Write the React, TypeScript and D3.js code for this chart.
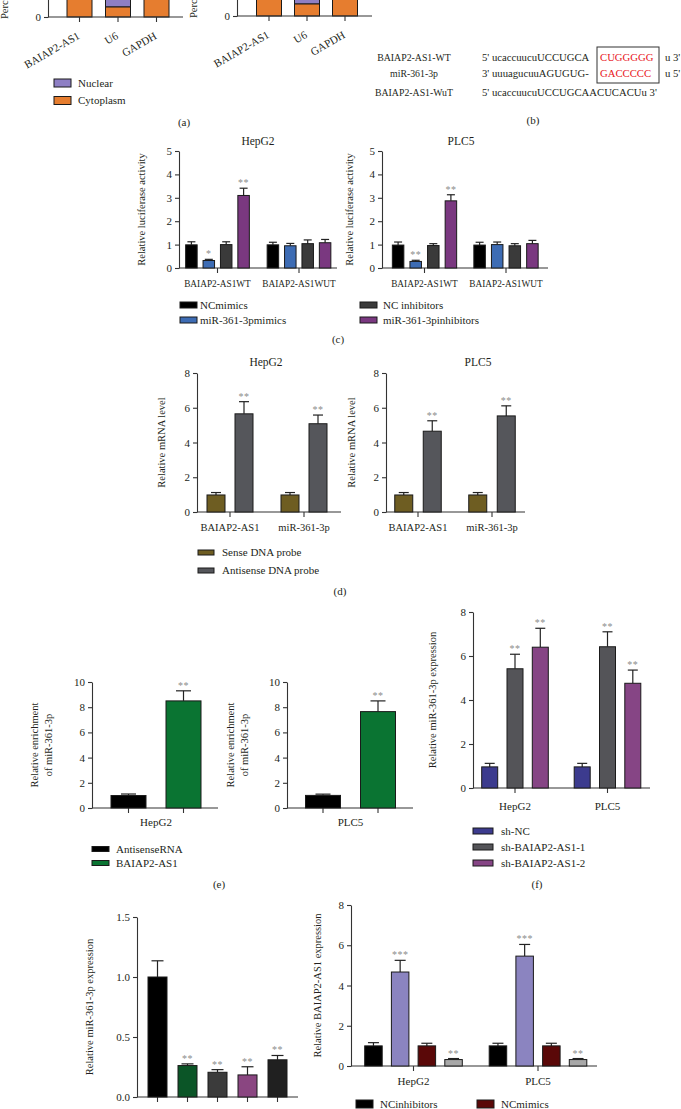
import React, { useEffect, useRef } from "react";
import * as d3 from "d3";

const FONT = "'Liberation Serif', 'Times New Roman', serif";
const TEXT = "#231f20";
const AXIS = "#333333";
const STAR = "#8c8c8c";

// ---------- (a) subcellular fractionation ----------
const aCategories = ["BAIAP2-AS1", "U6", "GAPDH"];
const aLegend = ["Nuclear", "Cytoplasm"];
const aColors = ["#8e7fc4", "#e67d2f"];
const aChart1Cytoplasm = [88, 10, 92];
const aChart1Nuclear = [12, 90, 8];
const aChart2Cytoplasm = [86, 12, 90];
const aChart2Nuclear = [14, 88, 10];
const aTicks = [0];

// ---------- (b) binding site ----------
const bLabels = ["BAIAP2-AS1-WT", "miR-361-3p", "BAIAP2-AS1-WuT"];
const bSeqs = ["5' ucaccuucuUCCUGCA", "3' uuuagucuuAGUGUG-", "5' ucaccuucuUCCUGCAACUCACUu 3'"];
const bSites = ["CUGGGGG", "GACCCCC", ""];
const bTails = ["u 3'", "u 5'", ""];

// ---------- (c) luciferase ----------
const cGroups = ["BAIAP2-AS1WT", "BAIAP2-AS1WUT"];
const cSeries = ["NCmimics", "miR-361-3pmimics", "NC inhibitors", "miR-361-3pinhibitors"];
const cColors = ["#000000", "#3d6cb4", "#3a3a3a", "#7a3880"];
const cHepG2 = [[0.99, 0.99], [0.32, 0.95], [1.0, 1.04], [3.1, 1.08]];
const cHepG2Err = [[0.13, 0.11], [0.05, 0.1], [0.12, 0.16], [0.31, 0.14]];
const cHepG2Sig = [["", ""], ["*", ""], ["", ""], ["**", ""]];
const cPLC5 = [[0.98, 0.98], [0.28, 1.0], [0.96, 0.95], [2.87, 1.04]];
const cPLC5Err = [[0.13, 0.12], [0.05, 0.11], [0.08, 0.09], [0.26, 0.14]];
const cPLC5Sig = [["", ""], ["**", ""], ["", ""], ["**", ""]];

// ---------- (d) RNA pull-down ----------
const dGroups = ["BAIAP2-AS1", "miR-361-3p"];
const dSeries = ["Sense DNA probe", "Antisense DNA probe"];
const dColors = ["#6e5d22", "#55565b"];
const dHepG2 = [[0.98, 0.98], [5.65, 5.08]];
const dHepG2Err = [[0.14, 0.14], [0.7, 0.5]];
const dPLC5 = [[0.98, 0.98], [4.65, 5.53]];
const dPLC5Err = [[0.14, 0.14], [0.6, 0.58]];
const dSig = [["", ""], ["**", "**"]];

// ---------- (e) RIP enrichment ----------
const eSeries = ["AntisenseRNA", "BAIAP2-AS1"];
const eColors = ["#000000", "#0a7432"];
const eHepG2 = [0.99, 8.5];
const eHepG2Err = [0.12, 0.8];
const ePLC5 = [1.0, 7.65];
const ePLC5Err = [0.1, 0.85];
const eSig = ["", "**"];

// ---------- (f) knockdown ----------
const fGroups = ["HepG2", "PLC5"];
const fSeries = ["sh-NC", "sh-BAIAP2-AS1-1", "sh-BAIAP2-AS1-2"];
const fColors = ["#3c3b8e", "#545458", "#864585"];
const fValues = [[0.96, 0.96], [5.42, 6.42], [6.4, 4.76]];
const fErrs = [[0.16, 0.16], [0.66, 0.68], [0.86, 0.6]];
const fSig = [["", ""], ["**", "**"], ["**", "**"]];

// ---------- (g) miR-361-3p expression ----------
const gBars = ["g1", "g2", "g3", "g4", "g5"];
const gColors = ["#000000", "#0b5527", "#3b3b3b", "#8a4681", "#202020"];
const gValues = [1.0, 0.262, 0.206, 0.184, 0.31];
const gErrs = [0.135, 0.014, 0.022, 0.068, 0.036];
const gSig = ["", "**", "**", "**", "**"];

// ---------- (h) BAIAP2-AS1 expression ----------
const hGroups = ["HepG2", "PLC5"];
const hSeries = ["NCinhibitors", "miR-361-3p inhibitors", "NCmimics", "miR-361-3p mimics"];
const hColors = ["#000000", "#8b84c0", "#5a0808", "#a8a8a8"];
const hValues = [[1.0, 1.0], [4.67, 5.46], [1.0, 1.0], [0.32, 0.32]];
const hErrs = [[0.16, 0.13], [0.58, 0.58], [0.13, 0.13], [0.05, 0.05]];
const hSig = [["", ""], ["***", "***"], ["", ""], ["**", "**"]];

type Sel = d3.Selection<SVGGElement, unknown, null, undefined>;

interface BarCfg {
  x0: number; x1: number; y0: number; y1: number; yMax: number;
  ticks: number[]; fmt?: (d: number) => string;
  groups: string[]; groupRange: [number, number];
  series: string[]; values: number[][]; errs: number[][]; sig: string[][];
  colors: string[]; step: number; barW: number; cap: number;
  title?: string; titleX?: number; titleY?: number;
  ylabel: string[]; ylabelX: number;
  groupLabels?: { text: string; x: number; y: number }[];
  groupLabelY?: number; groupLabelSize?: number;
  tickPerBar?: boolean;
}

function txt(g: Sel, x: number, y: number, s: string, size = 11, anchor = "middle", fill = TEXT) {
  return g.append("text").attr("x", x).attr("y", y).attr("text-anchor", anchor)
    .attr("font-family", FONT).attr("font-size", size).attr("fill", fill).text(s);
}

function styleAxis(ax: any) {
  ax.attr("font-family", FONT);
  ax.select(".domain").attr("stroke", AXIS).attr("stroke-width", 1.1);
  ax.selectAll(".tick line").attr("stroke", AXIS).attr("stroke-width", 1.1);
  ax.selectAll(".tick text").attr("font-family", FONT).attr("font-size", 11).attr("fill", TEXT);
}

function drawBars(root: Sel, c: BarCfg) {
  const g = root.append("g");
  const y = d3.scaleLinear().domain([0, c.yMax]).range([c.y0, c.y1]);
  const gx = d3.scalePoint<string>().domain(c.groups).range(c.groupRange);
  const n = c.series.length;
  const pi = 1 - c.barW / c.step;
  const sx = d3.scaleBand<string>().domain(c.series)
    .range([-(n * c.step) / 2, (n * c.step) / 2]).paddingInner(pi).paddingOuter(pi / 2);

  const ax = g.append("g").attr("transform", `translate(${c.x0},0)`)
    .call(d3.axisLeft(y).tickValues(c.ticks).tickSize(4).tickSizeOuter(0).tickPadding(3)
      .tickFormat((d) => (c.fmt ? c.fmt(+d) : String(d))) as any);
  styleAxis(ax);

  g.append("line").attr("x1", c.x0).attr("x2", c.x1).attr("y1", y(0)).attr("y2", y(0))
    .attr("stroke", AXIS).attr("stroke-width", 1.1);

  const tickXs: number[] = [];
  c.groups.forEach((grp) => {
    if (c.tickPerBar) c.series.forEach((s) => tickXs.push((gx(grp) as number) + (sx(s) as number) + c.barW / 2));
    else tickXs.push(gx(grp) as number);
  });
  tickXs.forEach((tx) => {
    g.append("line").attr("x1", tx).attr("x2", tx).attr("y1", y(0)).attr("y2", y(0) + 5)
      .attr("stroke", AXIS).attr("stroke-width", 1.1);
  });

  c.series.forEach((s, i) => {
    c.groups.forEach((grp, j) => {
      const v = c.values[i][j];
      const e = c.errs[i][j];
      const bx = (gx(grp) as number) + (sx(s) as number);
      const cx = bx + c.barW / 2;
      g.append("line").attr("x1", cx).attr("x2", cx).attr("y1", y(v)).attr("y2", y(v + e))
        .attr("stroke", "#222").attr("stroke-width", 1.2);
      g.append("line").attr("x1", cx - c.cap / 2).attr("x2", cx + c.cap / 2).attr("y1", y(v + e)).attr("y2", y(v + e))
        .attr("stroke", "#222").attr("stroke-width", 1.2);
      g.append("rect").attr("x", bx).attr("y", y(v)).attr("width", c.barW).attr("height", y(0) - y(v))
        .attr("fill", c.colors[i]).attr("stroke", "#1a1a1a").attr("stroke-width", 1);
      const sg = c.sig[i][j];
      if (sg) txt(g, cx, y(v + e) - 2, sg, 10, "middle", STAR).attr("letter-spacing", 0.5);
    });
  });

  if (c.title) txt(g, c.titleX as number, c.titleY as number, c.title, 11.5);
  const lc = (c.y0 + c.y1) / 2;
  c.ylabel.forEach((l, k) => {
    g.append("text").attr("transform", `translate(${c.ylabelX + k * 14},${lc}) rotate(-90)`)
      .attr("text-anchor", "middle").attr("font-family", FONT).attr("font-size", 10.5).attr("fill", TEXT).text(l);
  });
  if (c.groupLabelY !== undefined) {
    c.groups.forEach((grp) => txt(g, gx(grp) as number, c.groupLabelY as number, grp, c.groupLabelSize || 11));
  }
  (c.groupLabels || []).forEach((gl) => txt(g, gl.x, gl.y, gl.text, 11));
}

function legend(root: Sel, items: string[], colors: string[], x: number, ys: number[], w: number, h: number, tx: number) {
  items.forEach((it, i) => {
    root.append("rect").attr("x", x).attr("y", ys[i] - h / 2).attr("width", w).attr("height", h)
      .attr("fill", colors[i]).attr("stroke", "#1a1a1a").attr("stroke-width", 1);
    txt(root, tx, ys[i] + 3.8, it, 11, "start");
  });
}

function drawStacked(root: Sel, x0: number, x1: number, base: number, centers: [number, number], cyto: number[], nuc: number[], labelX: number) {
  const g = root.append("g");
  const y = d3.scaleLinear().domain([0, 100]).range([base, base - 100]);
  const x = d3.scalePoint<string>().domain(aCategories).range(centers);
  const w = 25;
  aCategories.forEach((cat, i) => {
    const cx = x(cat) as number;
    g.append("rect").attr("x", cx - w / 2).attr("y", y(cyto[i] + nuc[i])).attr("width", w)
      .attr("height", y(cyto[i]) - y(cyto[i] + nuc[i])).attr("fill", aColors[0]).attr("stroke", "#1a1a1a");
    g.append("rect").attr("x", cx - w / 2).attr("y", y(cyto[i])).attr("width", w)
      .attr("height", y(0) - y(cyto[i])).attr("fill", aColors[1]).attr("stroke", "#1a1a1a");
    g.append("line").attr("x1", cx).attr("x2", cx).attr("y1", base).attr("y2", base + 5).attr("stroke", AXIS).attr("stroke-width", 1.1);
    g.append("text").attr("transform", `translate(${cx + 1},${base + 21}) rotate(-30)`)
      .attr("text-anchor", "end").attr("font-family", FONT).attr("font-size", 11).attr("fill", TEXT).text(cat);
  });
  const ax = g.append("g").attr("transform", `translate(${x0},0)`)
    .call(d3.axisLeft(y).tickValues(aTicks).tickSize(4).tickSizeOuter(0).tickPadding(3) as any);
  styleAxis(ax);
  g.append("line").attr("x1", x0).attr("x2", x1).attr("y1", base).attr("y2", base).attr("stroke", AXIS).attr("stroke-width", 1.1);
  g.append("text").attr("transform", `translate(${labelX},${base + 2}) rotate(-90)`)
    .attr("text-anchor", "start").attr("font-family", FONT).attr("font-size", 10.5).attr("fill", TEXT).text("Perc");
}

export default function App() {
  const ref = useRef<SVGSVGElement>(null);
  useEffect(() => {
    const svg = d3.select(ref.current as SVGSVGElement);
    svg.selectAll("*").remove();
    const root = svg.append("g") as unknown as Sel;

    // (a)
    drawStacked(root, 48, 183, 17, [79.5, 156.5], aChart1Cytoplasm, aChart1Nuclear, 8);
    drawStacked(root, 237, 372, 16, [269, 345], aChart2Cytoplasm, aChart2Nuclear, 197);
    legend(root, aLegend, aColors, 54, [83, 100.5], 17, 8, 78);
    txt(root, 184, 126, "(a)", 11);

    // (b)
    const bY = [61, 77, 96];
    bLabels.forEach((l, i) => {
      txt(root, 414, bY[i], l, 9.8);
      txt(root, 482, bY[i], bSeqs[i], 10.7, "start");
      if (bSites[i]) txt(root, 600, bY[i], bSites[i], 10.7, "start", "#e8141b");
      if (bTails[i]) txt(root, 665, bY[i], bTails[i], 10.7, "start");
    });
    root.append("rect").attr("x", 597).attr("y", 47).attr("width", 62).attr("height", 36)
      .attr("fill", "none").attr("stroke", "#333").attr("stroke-width", 1);
    txt(root, 533, 124, "(b)", 11);

    // (c)
    drawBars(root, {
      x0: 179, x1: 337, y0: 268, y1: 151, yMax: 5, ticks: [0, 1, 2, 3, 4, 5],
      groups: cGroups, groupRange: [217.5, 299], series: cSeries, values: cHepG2, errs: cHepG2Err, sig: cHepG2Sig,
      colors: cColors, step: 17.4, barW: 11.5, cap: 8, title: "HepG2", titleX: 258, titleY: 145,
      ylabel: ["Relative luciferase activity"], ylabelX: 145, groupLabelY: 287, groupLabelSize: 9.3,
    });
    drawBars(root, {
      x0: 382, x1: 548, y0: 268, y1: 151, yMax: 5, ticks: [0, 1, 2, 3, 4, 5],
      groups: cGroups, groupRange: [424.5, 506], series: cSeries, values: cPLC5, errs: cPLC5Err, sig: cPLC5Sig,
      colors: cColors, step: 17.6, barW: 11.5, cap: 8, title: "PLC5", titleX: 461, titleY: 145,
      ylabel: ["Relative luciferase activity"], ylabelX: 353, groupLabelY: 287, groupLabelSize: 9.3,
    });
    legend(root, cSeries.slice(0, 2), cColors.slice(0, 2), 180, [305, 320], 17, 6, 200);
    legend(root, cSeries.slice(2), cColors.slice(2), 360, [305, 320], 17, 6, 383);
    txt(root, 338, 343, "(c)", 11);

    // (d)
    drawBars(root, {
      x0: 197, x1: 341, y0: 512, y1: 373, yMax: 8, ticks: [0, 2, 4, 6, 8],
      groups: dGroups, groupRange: [230, 304], series: dSeries, values: dHepG2, errs: dHepG2Err, sig: dSig,
      colors: dColors, step: 28, barW: 18, cap: 10, title: "HepG2", titleX: 266, titleY: 366,
      ylabel: ["Relative mRNA level"], ylabelX: 165, groupLabelY: 531, groupLabelSize: 10.5,
    });
    drawBars(root, {
      x0: 386, x1: 525, y0: 512, y1: 373, yMax: 8, ticks: [0, 2, 4, 6, 8],
      groups: dGroups, groupRange: [418, 492], series: dSeries, values: dPLC5, errs: dPLC5Err, sig: dSig,
      colors: dColors, step: 28.5, barW: 18, cap: 10, title: "PLC5", titleX: 478, titleY: 366,
      ylabel: ["Relative mRNA level"], ylabelX: 355, groupLabelY: 531, groupLabelSize: 10.5,
    });
    legend(root, dSeries, dColors, 198, [552.5, 570.5], 16, 5, 222);
    txt(root, 340, 595, "(d)", 11);

    // (e)
    drawBars(root, {
      x0: 92, x1: 218, y0: 808, y1: 682, yMax: 10, ticks: [0, 2, 4, 6, 8, 10],
      groups: ["HepG2"], groupRange: [156, 156], series: eSeries,
      values: eHepG2.map((v) => [v]), errs: eHepG2Err.map((v) => [v]), sig: eSig.map((v) => [v]),
      colors: eColors, step: 55, barW: 35, cap: 15, tickPerBar: true,
      ylabel: ["Relative enrichment", "of miR-361-3p"], ylabelX: 38,
      groupLabels: [{ text: "HepG2", x: 156, y: 826 }],
    });
    drawBars(root, {
      x0: 287, x1: 413, y0: 808, y1: 682, yMax: 10, ticks: [0, 2, 4, 6, 8, 10],
      groups: ["PLC5"], groupRange: [350.5, 350.5], series: eSeries,
      values: ePLC5.map((v) => [v]), errs: ePLC5Err.map((v) => [v]), sig: eSig.map((v) => [v]),
      colors: eColors, step: 55, barW: 35, cap: 15, tickPerBar: true,
      ylabel: ["Relative enrichment", "of miR-361-3p"], ylabelX: 234,
      groupLabels: [{ text: "PLC5", x: 350.5, y: 826 }],
    });
    legend(root, eSeries, eColors, 92, [849, 863], 17, 5, 116);
    txt(root, 219, 888, "(e)", 11);

    // (f)
    drawBars(root, {
      x0: 473, x1: 650, y0: 788, y1: 612, yMax: 8, ticks: [0, 2, 4, 6, 8],
      groups: fGroups, groupRange: [515, 607.5], series: fSeries, values: fValues, errs: fErrs, sig: fSig,
      colors: fColors, step: 25.3, barW: 16, cap: 10,
      ylabel: ["Relative miR-361-3p expression"], ylabelX: 436, groupLabelY: 810,
    });
    legend(root, fSeries, fColors, 473, [831, 847, 863], 20, 6, 501);
    txt(root, 537, 888, "(f)", 11);

    // (g)
    drawBars(root, {
      x0: 137, x1: 298, y0: 1097, y1: 917, yMax: 1.5, ticks: [0, 0.5, 1.0, 1.5], fmt: d3.format(".1f"),
      groups: ["g"], groupRange: [217.5, 217.5], series: gBars,
      values: gValues.map((v) => [v]), errs: gErrs.map((v) => [v]), sig: gSig.map((v) => [v]),
      colors: gColors, step: 30, barW: 19, cap: 12, tickPerBar: true,
      ylabel: ["Relative miR-361-3p expression"], ylabelX: 93,
    });

    // (h)
    drawBars(root, {
      x0: 351, x1: 597, y0: 1066, y1: 905, yMax: 8, ticks: [0, 2, 4, 6, 8],
      groups: hGroups, groupRange: [413.5, 538], series: hSeries, values: hValues, errs: hErrs, sig: hSig,
      colors: hColors, step: 26.7, barW: 17.5, cap: 11,
      ylabel: ["Relative BAIAP2-AS1 expression"], ylabelX: 321, groupLabelY: 1085,
    });
    legend(root, [hSeries[0]], [hColors[0]], 356, [1104], 17, 8, 380);
    legend(root, [hSeries[2]], [hColors[2]], 477, [1104], 17, 8, 501);
  }, []);
  return (
    <svg ref={ref} width={681} height={1109}
      style={{ position: "absolute", top: 0, left: 0, background: "#fff" }} />
  );
}
